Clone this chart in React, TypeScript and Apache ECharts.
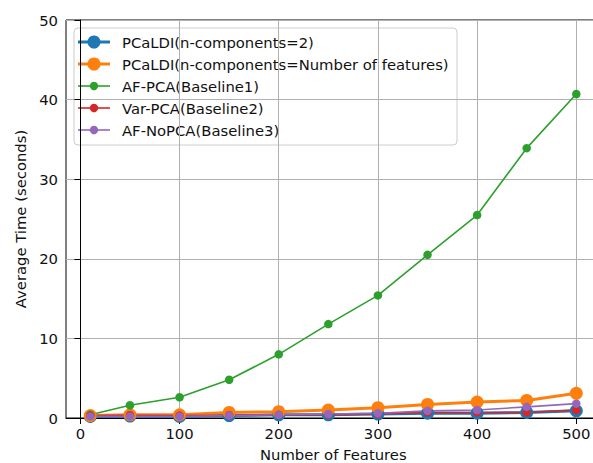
import React, { useEffect, useRef } from "react";
import * as echarts from "echarts";

const features = [10, 50, 100, 150, 200, 250, 300, 350, 400, 450, 500];
const pcaldi2 = [0.2, 0.25, 0.2, 0.3, 0.4, 0.4, 0.5, 0.6, 0.6, 0.7, 0.9];
const pcaldiAll = [0.3, 0.4, 0.4, 0.7, 0.8, 1.0, 1.3, 1.7, 2.0, 2.2, 3.1];
const afPca = [0.4, 1.6, 2.6, 4.8, 8.0, 11.8, 15.4, 20.5, 25.5, 33.9, 40.7];
const varPca = [0.3, 0.35, 0.3, 0.35, 0.4, 0.4, 0.5, 0.7, 0.7, 0.7, 1.0];
const afNoPca = [0.2, 0.2, 0.2, 0.3, 0.4, 0.5, 0.6, 0.9, 1.0, 1.4, 1.8];
const xTicks = [0, 100, 200, 300, 400, 500];

const seriesDefs = [
  { name: "PCaLDI(n-components=2)", data: pcaldi2, color: "#1f77b4", big: true },
  { name: "PCaLDI(n-components=Number of features)", data: pcaldiAll, color: "#ff7f0e", big: true },
  { name: "AF-PCA(Baseline1)", data: afPca, color: "#2ca02c", big: false },
  { name: "Var-PCA(Baseline2)", data: varPca, color: "#d62728", big: false },
  { name: "AF-NoPCA(Baseline3)", data: afNoPca, color: "#9467bd", big: false },
];

const FONT = "DejaVu Sans";
const FS = 14.8;

export default function App() {
  const ref = useRef<HTMLDivElement>(null);
  useEffect(() => {
    const chart = echarts.init(ref.current!, null, { renderer: "svg" });
    const legendTop = 28;
    const rowYs = [42, 64, 86, 108, 130];
    const legendChildren: any[] = [
      {
        type: "rect",
        shape: { x: 74, y: legendTop, width: 383, height: 117, r: 4 },
        style: { fill: "rgba(255,255,255,0.8)", stroke: "#cccccc", lineWidth: 1 },
      },
    ];
    seriesDefs.forEach((s, i) => {
      const y = rowYs[i];
      legendChildren.push({
        type: "line",
        shape: { x1: 78, y1: y, x2: 110, y2: y },
        style: { stroke: s.color, lineWidth: s.big ? 3 : 1.6 },
      });
      legendChildren.push({
        type: "circle",
        shape: { cx: 94, cy: y, r: s.big ? 6.5 : 4.2 },
        style: { fill: s.color },
      });
      legendChildren.push({
        type: "text",
        x: 122,
        y: y,
        style: {
          text: s.name,
          fontFamily: FONT,
          fontSize: FS,
          fill: "#111",
          verticalAlign: "middle",
          align: "left",
        },
      });
    });

    chart.setOption({
      animation: false,
      backgroundColor: "#fff",
      grid: {
        left: 66,
        top: 20,
        width: 534.6,
        height: 398,
        show: true,
        borderColor: "#000",
        borderWidth: 1,
        backgroundColor: "transparent",
        outerBoundsMode: "none",
        containLabel: false,
      },
      xAxis: {
        type: "value",
        min: -14.5,
        max: 524.5,
        name: "Number of Features",
        nameLocation: "middle",
        nameGap: 29,
        nameTextStyle: { fontFamily: FONT, fontSize: FS, color: "#111" },
        axisLine: { show: true, onZero: false, lineStyle: { color: "#000", width: 1 } },
        axisTick: { show: true, inside: false, length: 6, customValues: xTicks, lineStyle: { color: "#000" } },
        axisLabel: {
          customValues: xTicks,
          fontFamily: FONT,
          fontSize: FS,
          color: "#111",
          margin: 8,
          showMinLabel: true,
          showMaxLabel: true,
        },
        splitLine: { show: true, lineStyle: { color: "#b0b0b0", width: 1 } },
      },
      yAxis: {
        type: "value",
        min: 0,
        max: 50,
        interval: 10,
        name: "Average Time (seconds)",
        nameLocation: "middle",
        nameGap: 37,
        nameRotate: 90,
        nameTextStyle: { fontFamily: FONT, fontSize: FS, color: "#111" },
        axisLine: { show: true, lineStyle: { color: "#000", width: 1 } },
        axisTick: { show: true, inside: false, length: 6, lineStyle: { color: "#000" } },
        axisLabel: { fontFamily: FONT, fontSize: FS, color: "#111", margin: 8 },
        splitLine: { show: true, lineStyle: { color: "#b0b0b0", width: 1 } },
      },
      series: seriesDefs.map((s) => ({
        name: s.name,
        type: "line",
        data: features.map((x, i) => [x, s.data[i]]),
        symbol: "circle",
        symbolSize: s.big ? 13 : 8.5,
        showSymbol: true,
        clip: false,
        lineStyle: { color: s.color, width: s.big ? 3 : 1.6 },
        itemStyle: { color: s.color, borderWidth: 0 },
        emphasis: { disabled: true },
      })),
      graphic: [{ type: "group", children: legendChildren, z: 100 }],
    });
    return () => chart.dispose();
  }, []);
  return (
    <div
      ref={ref}
      style={{ position: "absolute", left: 0, top: 0, width: 593, height: 463 }}
    />
  );
}
